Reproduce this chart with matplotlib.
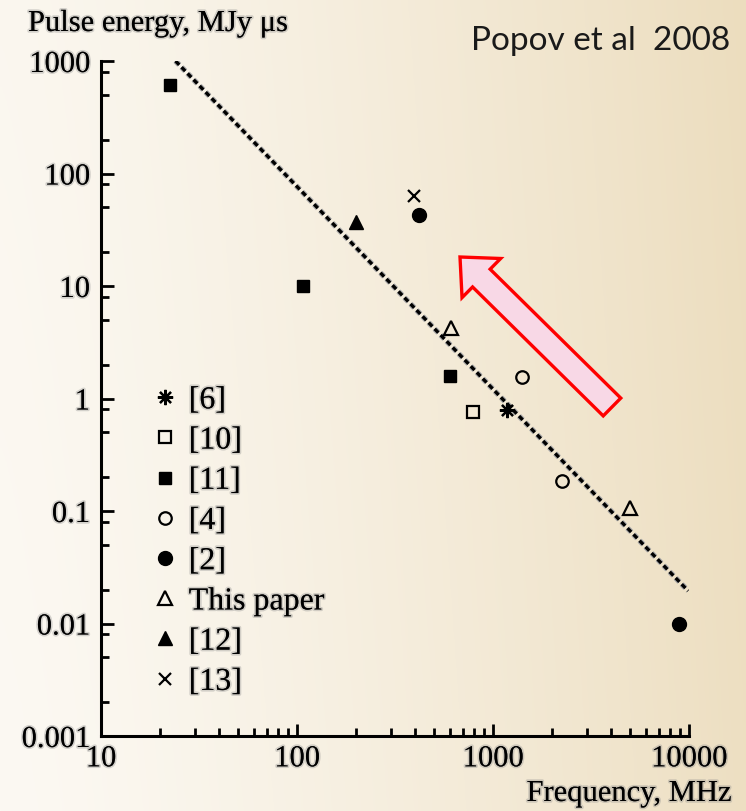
import numpy as np
import matplotlib
matplotlib.use("Agg")
import matplotlib.pyplot as plt
from matplotlib.lines import Line2D
from matplotlib.patches import FancyArrow
from matplotlib.transforms import IdentityTransform
import matplotlib.patheffects as pe

# data (frequency MHz, pulse energy MJy us)
ref6_f = [1180]
ref6_e = [0.79]
ref10_f = [790]
ref10_e = [0.76]
ref11_f = [22.5, 107, 600]
ref11_e = [610, 10, 1.6]
ref4_f = [1400, 2250]
ref4_e = [1.55, 0.185]
ref2_f = [420, 8900]
ref2_e = [43, 0.0099]
this_f = [610, 5000]
this_e = [4.2, 0.106]
ref12_f = [200]
ref12_e = [37]
ref13_f = [395]
ref13_e = [63]

# dashed fit line
fit_f = [24, 9900]
fit_e = [1000, 0.0195]

legend_labels = ["[6]", "[10]", "[11]", "[4]", "[2]", "This paper", "[12]", "[13]"]

W, H = 746, 812
fig = plt.figure(figsize=(W / 100, H / 100), dpi=100)

# background gradient
bg = fig.add_axes([0, 0, 1, 1], zorder=-5)
xx, yy = np.meshgrid(np.linspace(0, 1, 300), np.linspace(0, 1, 300))
t = np.clip(0.92 * xx ** 1.3 + 0.08 * (1 - yy), 0, 1)
c0 = np.array([252, 249, 243]) / 255
c1 = np.array([236, 221, 190]) / 255
img = c0[None, None, :] * (1 - t[..., None]) + c1[None, None, :] * t[..., None]
bg.imshow(img, aspect="auto", extent=[0, 1, 0, 1], origin="upper")
bg.axis("off")

serif = "Liberation Serif"
glow = [pe.withStroke(linewidth=2.5, foreground=(0.55, 0.55, 0.55, 0.35))]

ax = fig.add_axes([101 / W, 1 - 737 / H, 588 / W, 675 / H])
ax.set_facecolor("none")
ax.set_xscale("log")
ax.set_yscale("log")
ax.set_xlim(10, 10000)
ax.set_ylim(0.001, 1000)

ax.plot(fit_f, fit_e, color="black", lw=2.4, dashes=(1.6, 1.0),
        path_effects=[pe.Stroke(linewidth=4.0, foreground="#a9a9a9"), pe.Normal()], zorder=2)

ms = 9
mew = 1.6
series = [
    (ref6_f, ref6_e, dict(marker=(8, 2, 0), ms=11, mec="black", mew=1.6)),
    (ref10_f, ref10_e, dict(marker="s", ms=ms, mfc="none", mec="black", mew=mew)),
    (ref11_f, ref11_e, dict(marker="s", ms=ms, mfc="black", mec="black")),
    (ref4_f, ref4_e, dict(marker="o", ms=ms, mfc="none", mec="black", mew=mew)),
    (ref2_f, ref2_e, dict(marker="o", ms=10, mfc="black", mec="black")),
    (this_f, this_e, dict(marker="^", ms=10, mfc="none", mec="black", mew=mew)),
    (ref12_f, ref12_e, dict(marker="^", ms=10, mfc="black", mec="black")),
    (ref13_f, ref13_e, dict(marker="x", ms=8, mec="black", mew=1.6)),
]
handles = []
for (f, e, kw), lab in zip(series, legend_labels):
    ax.plot(f, e, linestyle="none", zorder=3, **kw)
    handles.append(Line2D([], [], linestyle="none", label=lab, **kw))

leg = ax.legend(handles=handles, loc="upper left", bbox_to_anchor=(136 / W, 1 - 371 / H),
                bbox_transform=fig.transFigure, frameon=False, borderpad=0,
                handlelength=0.8, handletextpad=0.35, labelspacing=0.34,
                prop={"family": serif, "size": 23})
for txt in leg.get_texts():
    txt.set_path_effects(glow)

for side in ["top", "right"]:
    ax.spines[side].set_visible(False)
for side in ["left", "bottom"]:
    ax.spines[side].set_linewidth(2.2)

ax.xaxis.set_major_locator(matplotlib.ticker.LogLocator(base=10))
ax.xaxis.set_minor_locator(matplotlib.ticker.LogLocator(base=10, subs=np.arange(2, 10)))
ax.yaxis.set_major_locator(matplotlib.ticker.LogLocator(base=10))
ax.yaxis.set_minor_locator(matplotlib.ticker.LogLocator(base=10, subs=(2, 5, 8)))
ax.xaxis.set_minor_formatter(matplotlib.ticker.NullFormatter())
ax.yaxis.set_minor_formatter(matplotlib.ticker.NullFormatter())
ax.set_xticks([10, 100, 1000, 10000])
ax.set_xticklabels(["10", "100", "1000", "10000"])
ax.set_yticks([0.001, 0.01, 0.1, 1, 10, 100, 1000])
ax.set_yticklabels(["0.001", "0.01", "0.1", "1", "10", "100", "1000"])
ax.tick_params(which="major", direction="in", length=9, width=2, labelsize=22)
ax.tick_params(which="minor", direction="in", length=6, width=2)
ax.tick_params(axis="x", which="major", pad=6)
ax.tick_params(axis="y", which="major", pad=8)
for lab in ax.get_xticklabels() + ax.get_yticklabels():
    lab.set_family(serif)
    lab.set_path_effects(glow)

fig.text(28 / W, 1 - 32 / H, "Pulse energy, MJy \u03bcs", family=serif, fontsize=22,
         ha="left", va="baseline", path_effects=glow)
fig.text(731 / W, 1 - 802 / H, "Frequency, MHz", family=serif, fontsize=22,
         ha="right", va="baseline", path_effects=glow)
fig.text(730 / W, 1 - 50 / H, "Popov et al  2008", family="Lato", fontsize=24,
         fontweight="normal", ha="right", va="baseline", color="#1a1a1a")

# red arrow (figure pixels, y up)
tail = np.array([612, H - 408])
tip = np.array([460, H - 258])
d = tip - tail
arrow = FancyArrow(tail[0], tail[1], d[0], d[1], width=25, head_width=55, head_length=30,
                   length_includes_head=True, transform=IdentityTransform(),
                   facecolor="#f8d8e6", edgecolor="#ff0000", linewidth=2.4, zorder=10)
fig.patches.append(arrow)

fig.savefig("out.png", dpi=100)
